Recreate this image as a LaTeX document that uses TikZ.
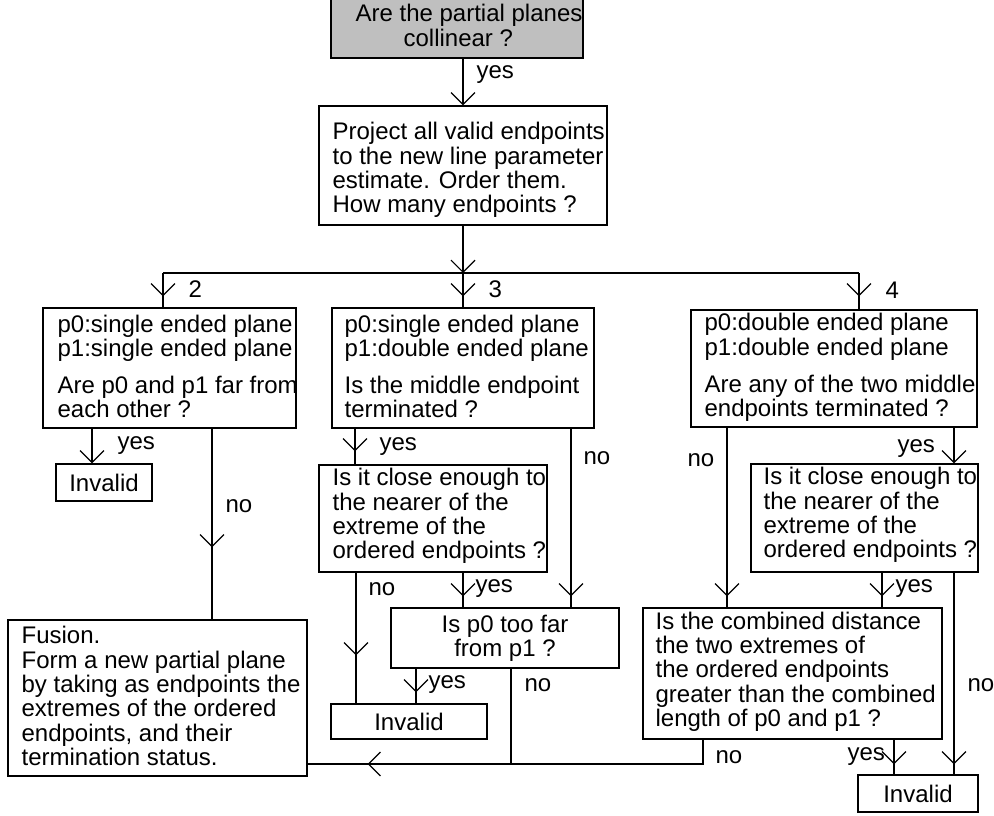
\documentclass[tikz,border=0pt]{standalone}
\usepackage{fontspec}
\setmainfont{Liberation Sans}
\usetikzlibrary{arrows.meta,decorations.markings}

\begin{document}
\begin{tikzpicture}[
  x=1pt, y=-1pt, line width=1.2pt,
  >={Straight Barb[length=12pt,width=24pt]},
  txtfont/.style={font=\fontsize{24pt}{24.3pt}\selectfont},
  box/.style={draw, inner sep=0pt, txtfont},
  decision/.style={box, fill=black!25},
  txt/.style={txtfont, inner sep=0pt, align=left, anchor=west},
  lbl/.style={txtfont, inner sep=0pt, anchor=west},
  tipat/.style={postaction={decorate, decoration={markings,
      mark=at position #1 with {\arrow{>}}}}},
]
\path[use as bounding box, fill=white] (0,0) rectangle (994,816);

% boxes
\node[decision, minimum width=252pt, minimum height=63pt] (top) at (457,26.5) {};
\node[box, minimum width=288pt, minimum height=119pt] (proj) at (463,165.5) {};
\node[box, minimum width=253pt, minimum height=120pt] (b2) at (169.5,368) {};
\node[box, minimum width=262pt, minimum height=120pt] (b3) at (463,368) {};
\node[box, minimum width=286pt, minimum height=117pt] (b4) at (834,368.5) {};
\node[box, minimum width=96pt, minimum height=37pt] (inv1) at (104,482.5) {Invalid};
\node[box, minimum width=228pt, minimum height=107pt] (c3a) at (433,518.5) {};
\node[box, minimum width=227pt, minimum height=108pt] (c4a) at (864.5,518) {};
\node[box, minimum width=228pt, minimum height=60pt, align=center] (p0far) at (505,638) {Is p0 too far\\from p1 ?};
\node[box, minimum width=299pt, minimum height=131pt] (c4b) at (792.5,673.5) {};
\node[box, minimum width=299pt, minimum height=156pt] (fusion) at (157.5,698) {};
\node[box, minimum width=156pt, minimum height=35pt] (inv2) at (409,721.5) {Invalid};
\node[box, minimum width=120pt, minimum height=37pt] (inv3) at (918,793.5) {Invalid};

% box texts
\node[txt] (top-t) at (355,25.5) {Are the partial planes\\\hspace*{48pt}collinear ?};
\node[txt] (proj-t) at (332,170) {Project all valid endpoints\\to the new line parameter\\estimate. Order them.\\How many endpoints ?};
\node[txt] (b2-t) at (57,366.5) {p0:single ended plane\\p1:single ended plane\\[12.7pt]Are p0 and p1 far from\\each other ?};
\node[txt] (b3-t) at (344,366.5) {p0:single ended plane\\p1:double ended plane\\[12.7pt]Is the middle endpoint\\terminated ?};
\node[txt] (b4-t) at (704,367.5) {p0:double ended plane\\p1:double ended plane\\[12.7pt]Are any of the two middle\\endpoints terminated ?};
\node[txt] (c3a-t) at (332,516) {Is it close enough to\\the nearer of the\\extreme of the\\ordered endpoints ?};
\node[txt] (c4a-t) at (763,515) {Is it close enough to\\the nearer of the\\extreme of the\\ordered endpoints ?};
\node[txt] (c4b-t) at (655,671.5) {Is the combined distance\\the two extremes of\\the ordered endpoints\\greater than the combined\\length of p0 and p1 ?};
\node[txt] (fusion-t) at (21,696) {Fusion.\\Form a new partial plane\\by taking as endpoints the\\extremes of the ordered\\endpoints, and their\\termination status.};

% branching bus
\coordinate (busL) at (163,273);
\coordinate (busM) at (463,273);
\coordinate (busR) at (859,273);
\coordinate (join) at (511,764);

% connectors
\draw[->] (top.south -| proj.north) -- (proj.north);
\draw[->] (proj.south) -- (busM);
\draw (busL) -- (busR);
\draw[tipat=-11pt] (busL) -- (busL |- b2.north);
\draw[tipat=-11pt] (busM) -- (b3.north);
\draw[tipat=-13pt] (busR) -- (busR |- b4.north);
\draw[->] (b2.south -| 92,0) -- (inv1.north -| 92,0);
\draw[tipat=-72pt] (b2.south -| 212,0) -- (fusion.north -| 212,0);
\draw[tipat=-13pt] (b3.south -| 355,0) -- (c3a.north -| 355,0);
\draw[tipat=-11pt] (b3.south -| 571,0) -- (p0far.north -| 571,0);
\draw[tipat=-48pt] (c3a.south -| 356,0) -- (inv2.north -| 356,0);
\draw[tipat=-11pt] (c3a.south -| 463,0) -- (p0far.north -| 463,0);
\draw[tipat=-11pt] (p0far.south -| 416,0) -- (inv2.north -| 416,0);
\draw (p0far.south -| join) -- (join);
\draw[tipat=-60pt] (c4b.south -| 703,0) |- (fusion.east |- join);
\draw[tipat=-11pt] (b4.south -| 727,0) -- (c4b.north -| 727,0);
\draw[->] (b4.south -| 954,0) -- (c4a.north -| 954,0);
\draw[tipat=-11pt] (c4a.south -| 882,0) -- (c4b.north -| 882,0);
\draw[tipat=-10pt] (c4a.south -| 954,0) -- (inv3.north -| 954,0);
\draw[tipat=-10pt] (c4b.south -| 894,0) -- (inv3.north -| 894,0);

% branch labels
\node[lbl] (l-yes0) at (476,75) {yes};
\node[lbl] (l-2) at (188,289) {2};
\node[lbl] (l-3) at (488,289) {3};
\node[lbl] (l-4) at (885,290) {4};
\node[lbl] (l-yes1) at (117,446) {yes};
\node[lbl] (l-no1) at (225,506) {no};
\node[lbl] (l-yes2) at (379,447) {yes};
\node[lbl] (l-no2) at (583,458) {no};
\node[lbl] (l-no3) at (368,589) {no};
\node[lbl] (l-yes3) at (475,589) {yes};
\node[lbl] (l-yes4) at (428,685) {yes};
\node[lbl] (l-no4) at (524,685) {no};
\node[lbl] (l-no5) at (687,460) {no};
\node[lbl] (l-yes5) at (897,449) {yes};
\node[lbl] (l-yes6) at (895,589) {yes};
\node[lbl] (l-no6) at (967,685) {no};
\node[lbl] (l-no7) at (715,757) {no};
\node[lbl] (l-yes7) at (847,757) {yes};
\end{tikzpicture}
\end{document}
